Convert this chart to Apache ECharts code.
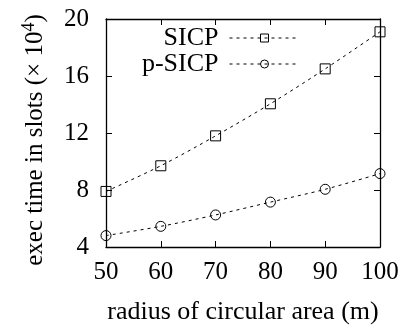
<!DOCTYPE html>
<html>
<head>
<meta charset="utf-8">
<script src="https://cdn.jsdelivr.net/npm/echarts@6/dist/echarts.min.js"></script>
<style>
  html, body { margin: 0; padding: 0; background: #fff; }
  #chart { width: 407px; height: 330px; }
</style>
</head>
<body>
<div id="chart"></div>
<script>
// x: radius of circular area (m)
var radius = [50, 60, 70, 80, 90, 100];
// exec time in slots (x 10^4)
var sicp = [7.9, 9.7, 11.8, 14.05, 16.5, 19.1];
var pSicp = [4.8, 5.45, 6.25, 7.15, 8.05, 9.15];

var font = 'Liberation Serif';
var myChart = echarts.init(document.getElementById('chart'));

function pairs(ys) {
    return radius.map(function (x, i) { return [x, ys[i]]; });
}

var mirrorAxis = {
    axisLine: { show: true, lineStyle: { color: '#000', width: 1.3 } },
    axisTick: { show: true, inside: true, length: 6, lineStyle: { color: '#000' } },
    axisLabel: { show: false },
    splitLine: { show: false }
};

var option = {
    animation: false,
    backgroundColor: '#fff',
    textStyle: { fontFamily: font, color: '#000' },
    grid: { left: 106, right: 27, top: 19, bottom: 80 },
    legend: {
        right: 107,
        top: 25,
        padding: 0,
        orient: 'vertical',
        align: 'right',
        itemWidth: 70,
        itemHeight: 10,
        itemGap: 0,
        lineStyle: { width: 1, type: [3, 4] },
        itemStyle: { borderWidth: 1 },
        textStyle: { fontFamily: font, fontSize: 26, color: '#000', padding: [0, 6, 0, 0] },
        data: ['SICP', 'p-SICP']
    },
    xAxis: [{
        type: 'value',
        min: 50,
        max: 100,
        interval: 10,
        name: 'radius of circular area (m)',
        nameLocation: 'middle',
        nameGap: 52,
        nameTextStyle: { fontFamily: font, fontSize: 26, color: '#000' },
        axisLine: { lineStyle: { color: '#000', width: 1.3 } },
        axisTick: { inside: true, length: 6, lineStyle: { color: '#000' } },
        axisLabel: { margin: 13, fontFamily: font, fontSize: 25, color: '#000' },
        splitLine: { show: false }
    }, Object.assign({ type: 'value', position: 'top', min: 50, max: 100, interval: 10 }, mirrorAxis)],
    yAxis: [{
        type: 'value',
        min: 4,
        max: 20,
        interval: 4,
        name: 'exec time in slots (× 10{sup|4})',
        nameLocation: 'middle',
        nameGap: 55,
        nameTextStyle: {
            fontFamily: font, fontSize: 25, color: '#000',
            padding: [0, 14, 0, 0],
            rich: { sup: { fontFamily: font, fontSize: 18, color: '#000', padding: [0, 0, 13, 0] } }
        },
        axisLine: { lineStyle: { color: '#000', width: 1.3 } },
        axisTick: { inside: true, length: 6, lineStyle: { color: '#000' } },
        axisLabel: { margin: 17, fontFamily: font, fontSize: 25, color: '#000' },
        splitLine: { show: false }
    }, Object.assign({ type: 'value', position: 'right', min: 4, max: 20, interval: 4 }, mirrorAxis)],
    series: [{
        name: 'SICP',
        type: 'line',
        smooth: 0.3,
        symbol: 'rect',
        symbolSize: 10,
        data: pairs(sicp),
        lineStyle: { color: '#000', width: 1, type: [3, 4] },
        itemStyle: { color: 'transparent', borderColor: '#000', borderWidth: 1 }
    }, {
        name: 'p-SICP',
        type: 'line',
        smooth: 0.3,
        symbol: 'circle',
        symbolSize: 10,
        data: pairs(pSicp),
        lineStyle: { color: '#000', width: 1, type: [3, 4] },
        itemStyle: { color: 'transparent', borderColor: '#000', borderWidth: 1 }
    }]
};

myChart.setOption(option);
window.addEventListener('resize', function () {
    myChart.resize();
});
</script>
</body>
</html>
